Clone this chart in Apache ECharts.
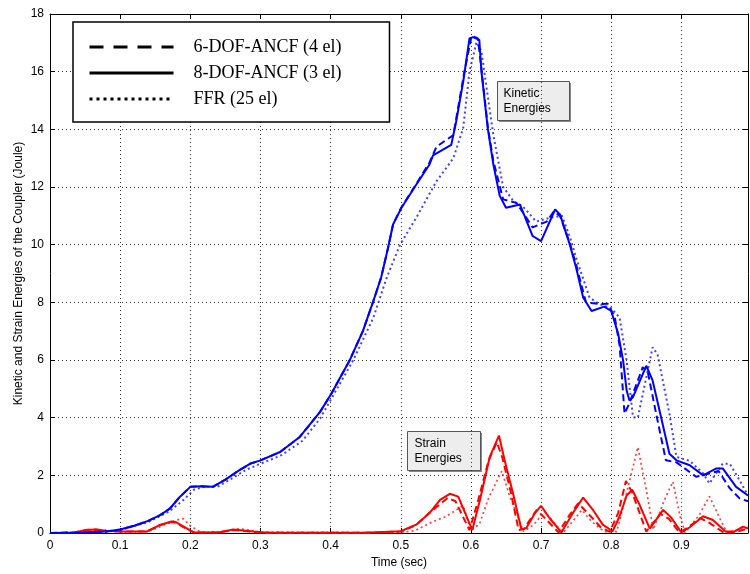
<!DOCTYPE html>
<html>
<head>
<meta charset="utf-8">
<script src="https://cdn.jsdelivr.net/npm/echarts@6/dist/echarts.min.js"></script>
<style>
  html, body { margin: 0; padding: 0; background: #ffffff; }
  #chart { width: 750px; height: 574px; }
</style>
</head>
<body>
<div id="chart"></div>
<script>
// Time axis ticks and energy axis ticks
var timeTicks = [0, 0.1, 0.2, 0.3, 0.4, 0.5, 0.6, 0.7, 0.8, 0.9];
var energyTicks = [0, 2, 4, 6, 8, 10, 12, 14, 16, 18];

var legendNames = ['6-DOF-ANCF (4 el)', '8-DOF-ANCF (3 el)', 'FFR (25 el)'];

// Kinetic energy of the coupler, [time (s), energy (J)]
var kinetic6dof = [
  [0, 0], [0.04, 0.01], [0.08, 0.05], [0.1, 0.12], [0.12, 0.25], [0.14, 0.42], [0.157, 0.62],
  [0.171, 0.85], [0.185, 1.25], [0.2, 1.6], [0.215, 1.62], [0.232, 1.6], [0.25, 1.85], [0.27, 2.18],
  [0.285, 2.4], [0.3, 2.52], [0.328, 2.81], [0.356, 3.33], [0.385, 4.2], [0.401, 4.83], [0.427, 5.98],
  [0.446, 7.0], [0.461, 8.05], [0.472, 8.86], [0.482, 9.9], [0.489, 10.7], [0.501, 11.3], [0.522, 12.1],
  [0.541, 12.85], [0.551, 13.4], [0.575, 13.8], [0.59, 15.9], [0.601, 17.25], [0.61, 17.15],
  [0.615, 16.1], [0.624, 14.1], [0.632, 12.9], [0.646, 11.57], [0.665, 11.45], [0.688, 10.6],
  [0.708, 10.8], [0.718, 11.15], [0.727, 11.0], [0.741, 10.05], [0.75, 9.3], [0.764, 8.0],
  [0.783, 7.94], [0.795, 7.95], [0.805, 7.5], [0.812, 6.5], [0.819, 4.14], [0.826, 4.5],
  [0.845, 5.75], [0.852, 5.6], [0.864, 4.14], [0.878, 2.52], [0.893, 2.45], [0.921, 1.95],
  [0.953, 2.15], [0.969, 1.55], [0.983, 1.2], [0.995, 1.1]
];
var kinetic8dof = [
  [0, 0], [0.04, 0.01], [0.08, 0.05], [0.1, 0.12], [0.12, 0.25], [0.14, 0.42], [0.157, 0.62],
  [0.171, 0.85], [0.185, 1.25], [0.2, 1.6], [0.215, 1.62], [0.232, 1.6], [0.25, 1.85], [0.27, 2.18],
  [0.285, 2.4], [0.3, 2.52], [0.328, 2.81], [0.356, 3.33], [0.385, 4.2], [0.401, 4.83], [0.427, 5.98],
  [0.446, 7.0], [0.461, 8.05], [0.472, 8.86], [0.482, 9.9], [0.489, 10.7], [0.501, 11.28], [0.522, 12.08],
  [0.541, 12.78], [0.546, 13.1], [0.572, 13.46], [0.579, 14.27], [0.589, 15.65], [0.598, 17.15],
  [0.603, 17.2], [0.612, 17.1], [0.615, 16.0], [0.624, 14.04], [0.632, 12.78], [0.641, 11.7],
  [0.65, 11.28], [0.67, 11.39], [0.688, 10.3], [0.7, 10.12], [0.72, 11.22], [0.727, 11.05],
  [0.741, 10.0], [0.75, 9.2], [0.76, 8.17], [0.772, 7.7], [0.79, 7.85], [0.8, 7.7], [0.81, 6.9],
  [0.817, 5.98], [0.822, 4.94], [0.826, 4.6], [0.831, 4.71], [0.85, 5.8], [0.859, 5.29],
  [0.871, 4.02], [0.883, 2.75], [0.893, 2.52], [0.912, 2.35], [0.931, 2.0], [0.95, 2.24],
  [0.959, 2.24], [0.978, 1.6], [0.995, 1.3]
];
var kineticFfr = [
  [0, 0], [0.04, 0.01], [0.08, 0.04], [0.1, 0.1], [0.14, 0.38], [0.17, 0.75], [0.19, 1.14],
  [0.205, 1.5], [0.22, 1.6], [0.24, 1.62], [0.26, 1.9], [0.28, 2.2], [0.3, 2.4], [0.33, 2.7],
  [0.36, 3.2], [0.385, 3.97], [0.432, 5.98], [0.461, 7.47], [0.48, 8.86], [0.499, 10.0],
  [0.522, 10.93], [0.551, 12.2], [0.575, 13.0], [0.589, 14.04], [0.598, 16.0], [0.608, 17.03],
  [0.615, 16.7], [0.622, 15.5], [0.632, 13.8], [0.646, 12.0], [0.661, 11.5], [0.675, 11.3],
  [0.693, 10.8], [0.712, 10.93], [0.73, 11.0], [0.742, 10.2], [0.75, 9.55], [0.769, 8.17],
  [0.783, 7.94], [0.8, 7.8], [0.812, 7.47], [0.822, 5.98], [0.831, 4.02], [0.838, 4.0],
  [0.859, 6.44], [0.866, 6.2], [0.883, 4.14], [0.893, 2.64], [0.912, 2.5], [0.931, 2.07],
  [0.94, 1.72], [0.959, 2.41], [0.969, 2.4], [0.983, 1.83], [0.995, 1.3]
];

// Strain energy of the coupler, [time (s), energy (J)]
var strain6dof = [
  [0, 0], [0.035, 0.02], [0.05, 0.1], [0.065, 0.12], [0.08, 0.08], [0.1, 0.05], [0.138, 0.05],
  [0.157, 0.28], [0.172, 0.38], [0.18, 0.35], [0.195, 0.14], [0.205, 0.02], [0.24, 0.02],
  [0.261, 0.1], [0.29, 0.04], [0.31, 0.01], [0.45, 0.01], [0.5, 0.05], [0.522, 0.28], [0.541, 0.7],
  [0.556, 1.0], [0.567, 1.22], [0.578, 1.1], [0.598, 0.1], [0.61, 1.1], [0.625, 2.5], [0.637, 3.15],
  [0.645, 2.6], [0.657, 1.4], [0.668, 0.1], [0.676, 0.15], [0.688, 0.6], [0.694, 0.8], [0.708, 0.45],
  [0.725, 0.02], [0.74, 0.6], [0.753, 1.03], [0.77, 0.6], [0.785, 0.2], [0.798, 0.04], [0.81, 0.7],
  [0.821, 1.8], [0.83, 1.4], [0.85, 0.05], [0.87, 0.66], [0.882, 0.5], [0.897, 0.02], [0.91, 0.2],
  [0.927, 0.52], [0.94, 0.35], [0.96, 0.02], [0.975, 0.02], [0.99, 0.12], [0.995, 0.1]
];
var strain8dof = [
  [0, 0], [0.035, 0.02], [0.05, 0.1], [0.065, 0.12], [0.08, 0.08], [0.1, 0.05], [0.138, 0.05],
  [0.157, 0.28], [0.173, 0.4], [0.18, 0.37], [0.195, 0.16], [0.205, 0.02], [0.24, 0.02],
  [0.261, 0.12], [0.29, 0.05], [0.31, 0.01], [0.45, 0.01], [0.5, 0.06], [0.522, 0.29], [0.541, 0.69],
  [0.556, 1.15], [0.57, 1.36], [0.582, 1.26], [0.602, 0.1], [0.613, 1.15], [0.627, 2.65], [0.64, 3.38],
  [0.648, 2.53], [0.66, 1.38], [0.672, 0.12], [0.679, 0.17], [0.691, 0.68], [0.7, 0.94], [0.712, 0.52],
  [0.729, 0.02], [0.745, 0.68], [0.76, 1.23], [0.774, 0.8], [0.788, 0.29], [0.802, 0.06], [0.812, 0.58],
  [0.822, 1.3], [0.83, 1.5], [0.84, 1.0], [0.855, 0.15], [0.874, 0.8], [0.885, 0.55], [0.9, 0.02],
  [0.912, 0.2], [0.931, 0.58], [0.945, 0.45], [0.963, 0.05], [0.975, 0.05], [0.988, 0.22], [0.995, 0.15]
];
var strainFfr = [
  [0, 0], [0.04, 0.02], [0.06, 0.12], [0.08, 0.08], [0.1, 0.03], [0.14, 0.05], [0.16, 0.25],
  [0.18, 0.45], [0.19, 0.5], [0.2, 0.25], [0.215, 0.02], [0.25, 0.05], [0.27, 0.15], [0.3, 0.03],
  [0.5, 0.01], [0.52, 0.08], [0.541, 0.34], [0.565, 0.58], [0.589, 0.95], [0.6, 0.1], [0.612, 0.3],
  [0.625, 1.2], [0.644, 2.15], [0.655, 1.3], [0.675, 0.05], [0.69, 0.3], [0.705, 0.75], [0.72, 0.3],
  [0.732, 0.02], [0.745, 0.4], [0.758, 0.8], [0.772, 0.4], [0.79, 0.05], [0.808, 0.05], [0.82, 1.2],
  [0.838, 2.98], [0.85, 1.5], [0.86, 0.12], [0.875, 1.1], [0.888, 1.78], [0.898, 0.6], [0.905, 0.02],
  [0.925, 0.6], [0.94, 1.27], [0.955, 0.5], [0.965, 0.02], [0.98, 0.1], [0.995, 0.2]
];

var BLUE = '#0000ff';
var RED = '#ff0000';
var DASH = [7, 4];
var DOT = [2, 3];
var tickFont = { fontFamily: 'Liberation Sans, Arial, sans-serif', fontSize: 12, color: '#000' };

function curve(data, color, type, width, opacity) {
  return {
    type: 'line',
    data: data,
    symbol: 'none',
    silent: true,
    lineStyle: { color: color, type: type, width: width, opacity: opacity },
    z: 3
  };
}

// Black legend-only entries for the three models (line sample, no marker)
function legendEntry(name, type) {
  return {
    name: name,
    type: 'line',
    data: [],
    symbol: 'none',
    lineStyle: { color: '#000', type: type, width: 3 },
    itemStyle: { color: '#000', opacity: 0 }
  };
}

function tickLabel(v) {
  for (var i = 0; i < timeTicks.length; i++) {
    if (Math.abs(timeTicks[i] - v) < 1e-6) return String(timeTicks[i]);
  }
  return '';
}
function energyLabel(v) {
  return energyTicks.indexOf(Math.round(v)) >= 0 && Math.abs(v - Math.round(v)) < 1e-6 ? String(Math.round(v)) : '';
}

var chart = echarts.init(document.getElementById('chart'), null, { renderer: 'canvas' });

var xCommon = { type: 'value', min: 0, max: 0.995, interval: 0.1 };
var yCommon = { type: 'value', min: 0, max: 18, interval: 2 };

chart.setOption({
  animation: false,
  backgroundColor: '#ffffff',
  grid: { left: 50, right: 2, top: 14, bottom: 41, show: false },
  legend: {
    data: legendNames,
    orient: 'vertical',
    left: 73,
    top: 22,
    padding: [16, 48, 14, 15],
    itemGap: 8,
    itemWidth: 84,
    itemHeight: 20,
    backgroundColor: '#ffffff',
    borderColor: '#000',
    borderWidth: 1.5,
    borderRadius: 0,
    selectedMode: false,
    itemStyle: { opacity: 0 },
    lineStyle: { width: 3, color: '#000' },
    textStyle: {
      fontFamily: 'Liberation Serif, Times New Roman, serif',
      fontSize: 18,
      color: '#000',
      padding: [0, 0, 0, 15]
    }
  },
  xAxis: [
    Object.assign({}, xCommon, {
      position: 'bottom',
      name: 'Time (sec)',
      nameLocation: 'middle',
      nameGap: 24,
      nameMoveOverlap: false,
      nameTextStyle: { fontFamily: 'Liberation Sans, Arial, sans-serif', fontSize: 12, color: '#000' },
      axisLine: { show: true, onZero: false, lineStyle: { color: '#000', width: 1 } },
      axisTick: { show: true, inside: true, length: 5, lineStyle: { color: '#000' } },
      axisLabel: Object.assign({ margin: 7, formatter: tickLabel, showMaxLabel: false }, tickFont),
      splitLine: { show: true, lineStyle: { color: '#333', type: [1, 3], width: 1 } }
    }),
    Object.assign({}, xCommon, {
      position: 'top',
      axisLine: { show: true, onZero: false, lineStyle: { color: '#000', width: 1 } },
      axisTick: { show: true, inside: true, length: 5, lineStyle: { color: '#000' } },
      axisLabel: { show: false },
      splitLine: { show: false }
    })
  ],
  yAxis: [
    Object.assign({}, yCommon, {
      position: 'left',
      name: 'Kinetic and Strain Energies of the Coupler (Joule)',
      nameLocation: 'middle',
      nameGap: 25,
      nameMoveOverlap: false,
      nameTextStyle: { fontFamily: 'Liberation Sans, Arial, sans-serif', fontSize: 12, color: '#000' },
      axisLine: { show: true, onZero: false, lineStyle: { color: '#000', width: 1 } },
      axisTick: { show: true, inside: true, length: 5, lineStyle: { color: '#000' } },
      axisLabel: Object.assign({ margin: 6, formatter: energyLabel }, tickFont),
      splitLine: { show: true, lineStyle: { color: '#333', type: [1, 3], width: 1 } }
    }),
    Object.assign({}, yCommon, {
      position: 'right',
      axisLine: { show: true, onZero: false, lineStyle: { color: '#000', width: 1 } },
      axisTick: { show: true, inside: true, length: 5, lineStyle: { color: '#000' } },
      axisLabel: { show: false },
      splitLine: { show: false }
    })
  ],
  series: [
    curve(strainFfr, RED, DOT, 1.7, 0.75),
    curve(strain6dof, RED, DASH, 2, 1),
    curve(strain8dof, RED, 'solid', 2, 1),
    curve(kineticFfr, BLUE, DOT, 2, 0.75),
    curve(kinetic6dof, BLUE, DASH, 2, 1),
    curve(kinetic8dof, BLUE, 'solid', 2, 1),
    legendEntry(legendNames[0], [14, 10]),
    legendEntry(legendNames[1], 'solid'),
    legendEntry(legendNames[2], [3, 4])
  ],
  graphic: [
    {
      type: 'group',
      left: 497,
      top: 81,
      children: [
        { type: 'rect', shape: { x: 1.5, y: 1.5, width: 72, height: 39 }, style: { fill: '#888' } },
        { type: 'rect', shape: { x: 0, y: 0, width: 72, height: 39 }, style: { fill: '#ededed', stroke: '#555', lineWidth: 1 } },
        { type: 'text', x: 6, y: 5, style: { text: 'Kinetic\nEnergies', fontFamily: 'Liberation Sans, Arial, sans-serif', fontSize: 12, lineHeight: 15, fill: '#000' } }
      ]
    },
    {
      type: 'group',
      left: 407,
      top: 431,
      children: [
        { type: 'rect', shape: { x: 1.5, y: 1.5, width: 73, height: 39 }, style: { fill: '#888' } },
        { type: 'rect', shape: { x: 0, y: 0, width: 73, height: 39 }, style: { fill: '#ededed', stroke: '#555', lineWidth: 1 } },
        { type: 'text', x: 7, y: 5, style: { text: 'Strain\nEnergies', fontFamily: 'Liberation Sans, Arial, sans-serif', fontSize: 12, lineHeight: 15, fill: '#000' } }
      ]
    }
  ]
});
</script>
</body>
</html>
